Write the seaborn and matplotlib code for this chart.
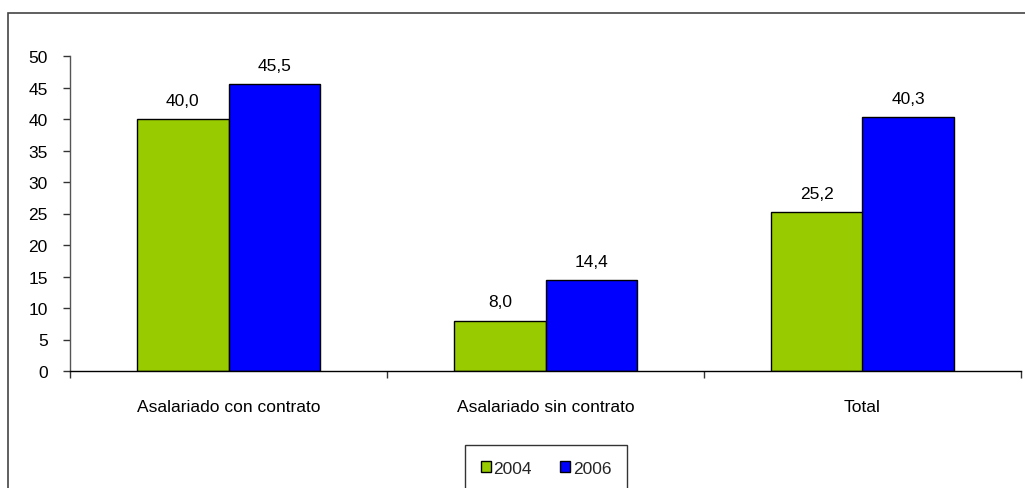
import matplotlib
matplotlib.use("Agg")
import matplotlib.pyplot as plt
import matplotlib.patches as mpatches
from matplotlib.ticker import MultipleLocator, FixedLocator
import seaborn as sns
import pandas as pd

categories = ["Asalariado con contrato", "Asalariado sin contrato", "Total"]
years = ["2004", "2006"]
values_2004 = [40.0, 8.0, 25.2]
values_2006 = [45.5, 14.4, 40.3]
colors = ["#99CC00", "#0000FF"]

df = pd.DataFrame({
    "cat": categories * 2,
    "year": [years[0]] * 3 + [years[1]] * 3,
    "val": values_2004 + values_2006,
})

sns.set_theme(style="white")
plt.rcParams["font.family"] = ["Liberation Sans", "DejaVu Sans"]
FS = 12.5

fig = plt.figure(figsize=(10.25, 4.89), dpi=100)
ax = fig.add_axes([70/1025, 1 - 372/489, (1021-70)/1025, (372-57)/489])

sns.barplot(data=df, x="cat", y="val", hue="year", palette=colors, width=0.575,
            edgecolor="black", linewidth=1.0, saturation=1, ax=ax, legend=False)

ax.set_xlim(-0.5, 2.5)
ax.set_ylim(0, 50)
ax.yaxis.set_major_locator(MultipleLocator(5))
ax.set_xlabel("")
ax.set_ylabel("")
for s in ["top", "right"]:
    ax.spines[s].set_visible(False)
ax.spines["left"].set_color("#555555")
ax.spines["bottom"].set_color("black")
ax.spines["left"].set_linewidth(1.0)
ax.spines["bottom"].set_linewidth(1.0)

ax.tick_params(axis="y", which="major", left=True, length=5, width=1, color="#333333",
               labelsize=FS, pad=11, labelcolor="black")
ax.tick_params(axis="x", which="major", bottom=False, length=0, labelsize=FS, pad=20,
               labelcolor="black")
ax.xaxis.set_minor_locator(FixedLocator([-0.5, 0.5, 1.5, 2.5]))
ax.tick_params(axis="x", which="minor", bottom=True, length=5, width=1, color="#333333")

for cont in ax.containers:
    for bar in cont:
        h = bar.get_height()
        ax.annotate(f"{h:.1f}".replace(".", ","),
                    (bar.get_x() + bar.get_width() / 2, h),
                    xytext=(0, 8), textcoords="offset points",
                    ha="center", va="bottom", fontsize=FS, color="black")

handles = [mpatches.Patch(facecolor=c, edgecolor="black", linewidth=1, label=y)
           for c, y in zip(colors, years)]
leg = fig.legend(handles=handles, loc="upper center", bbox_to_anchor=(546/1025, 1 - 446/489),
                 ncol=2, frameon=True, fancybox=False, fontsize=FS,
                 handlelength=0.6, handleheight=0.6, handletextpad=0.15,
                 columnspacing=1.6, borderpad=0.9, borderaxespad=0)
leg.get_frame().set_edgecolor("black")
leg.get_frame().set_linewidth(1.0)

frame = mpatches.Rectangle((8/1025, -0.2), 1.2, 1.2 - 14/489, transform=fig.transFigure,
                           fill=False, edgecolor="#444444", linewidth=1.2, clip_on=False)
fig.patches.append(frame)

fig.savefig("out.png", dpi=100)
